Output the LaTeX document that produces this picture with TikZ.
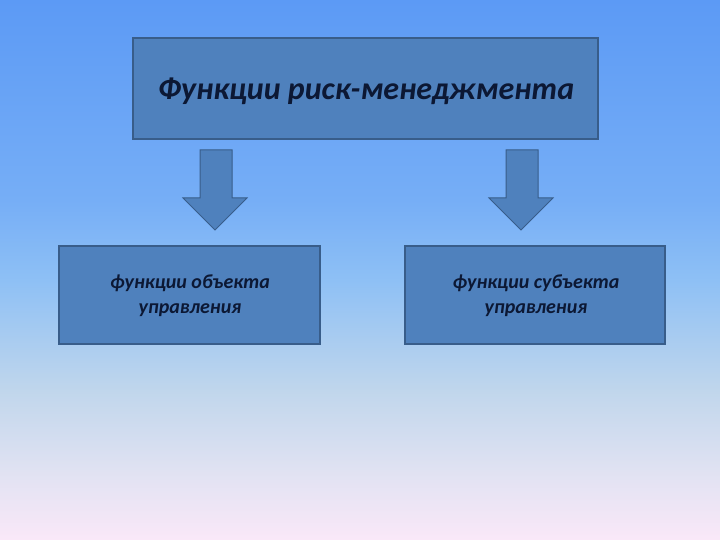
\documentclass[tikz,border=0pt]{standalone}
\usepackage{fontspec}
\setmainfont{Carlito}
\definecolor{bgA}{RGB}{92,154,245}
\definecolor{bgB}{RGB}{118,174,246}
\definecolor{bgC}{RGB}{142,192,245}
\definecolor{bgD}{RGB}{192,214,236}
\definecolor{bgE}{RGB}{224,226,242}
\definecolor{bgF}{RGB}{250,232,248}
\definecolor{boxfill}{RGB}{79,129,189}
\definecolor{boxline}{RGB}{56,93,138}
\definecolor{txt}{RGB}{12,24,52}
\tikzset{
  box/.style={draw=boxline, line width=1.5pt, fill=boxfill, inner sep=0pt},
  lbl/.style={text=txt, align=center},
  blockarrow/.style={draw=boxline, line width=1pt, fill=boxfill}
}
\begin{document}
\begin{tikzpicture}[x=1pt,y=-1pt]
\useasboundingbox (0,0) rectangle (720,540);
% background gradient
\shade[top color=bgA, bottom color=bgB] (0,0) rectangle (720,200.5);
\shade[top color=bgB, bottom color=bgC] (0,200) rectangle (720,280.5);
\shade[top color=bgC, bottom color=bgD] (0,280) rectangle (720,390.5);
\shade[top color=bgD, bottom color=bgE] (0,390) rectangle (720,470.5);
\shade[top color=bgE, bottom color=bgF] (0,470) rectangle (720,540);
% boxes
\node[box, minimum width=465pt, minimum height=101pt] (top) at (365.5,88.5) {};
\node[lbl, font=\fontsize{32}{38}\selectfont\bfseries\itshape] (toptxt) at (366,91) {Функции риск-менеджмента};
\node[box, minimum width=261pt, minimum height=98pt] (left) at (189.5,295) {};
\node[lbl, font=\fontsize{20}{25}\selectfont\bfseries\itshape] (lefttxt) at (190,296) {функции объекта\\управления};
\node[box, minimum width=260pt, minimum height=98pt] (right) at (535,295) {};
\node[lbl, font=\fontsize{20}{25}\selectfont\bfseries\itshape] (righttxt) at (536,296) {функции субъекта\\управления};
% block arrows
\draw[blockarrow] (200,150) -- (232,150) -- (232,198) -- (247,198) -- (215,230) -- (183,198) -- (200,198) -- cycle;
\draw[blockarrow] (506,150) -- (538,150) -- (538,198) -- (553,198) -- (521,230) -- (489,198) -- (506,198) -- cycle;
\end{tikzpicture}
\end{document}
